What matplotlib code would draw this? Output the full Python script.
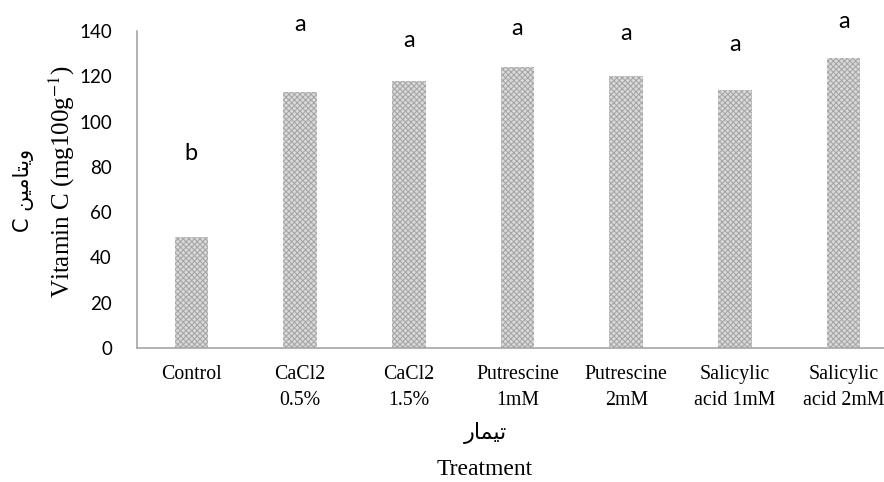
import matplotlib
matplotlib.use("Agg")
import matplotlib.pyplot as plt

# =============================================================================
# DATA
# =============================================================================

treatments = ["Control", "CaCl2\n0.5%", "CaCl2\n1.5%", "Putrescine\n1mM",
              "Putrescine\n2mM", "Salicylic\nacid 1mM", "Salicylic\nacid 2mM"]
vitamin_c  = [49, 113, 118, 124, 120, 114, 128]
letters    = ["b", "a", "a", "a", "a", "a", "a"]
letter_y   = [86, 143, 136, 141, 139, 134, 144]
y_ticks    = [0, 20, 40, 60, 80, 100, 120, 140]

# Persian labels in presentation forms (matplotlib does no Arabic shaping)
fa_treatment = "\uFEAD\uFE8E\uFEE4\uFEF4\uFE97"                       # تیمار
fa_vitamin   = "C " + "\uFEE6\uFEF4\uFEE3\uFE8E\uFE98\uFEF3\uFEED"     # ویتامین C

# =============================================================================

W, H, DPI = 884, 482, 100
SERIF = "Liberation Serif"
SANS  = "Lato"
AXIS_GRAY = "#a6a6a6"

plt.rcParams["hatch.linewidth"] = 0.7

fig = plt.figure(figsize=(W / DPI, H / DPI), dpi=DPI)
ax = fig.add_axes([137 / W, 1 - 348 / H, (898 - 137) / W, (348 - 31) / H])

x = range(len(treatments))
ax.bar(x, vitamin_c, width=0.31, facecolor="#d9d9d9", edgecolor="#a3a3a3",
       linewidth=0, hatch="xxxxxx", zorder=2)

for xi, lab, ly in zip(x, letters, letter_y):
    ax.text(xi, ly, lab, ha="center", va="center", fontsize=17, family=SANS)

ax.set_xlim(-0.5, len(treatments) - 0.5)
ax.set_ylim(0, 140)
ax.set_yticks(y_ticks)
ax.set_yticklabels([str(t) for t in y_ticks], fontsize=13.5, family=SANS)
ax.set_xticks(list(x))
ax.set_xticklabels(treatments, fontsize=14.3, family=SERIF, linespacing=1.5)
ax.tick_params(axis="y", length=0, pad=18)
ax.tick_params(axis="x", length=0, pad=12.5)

for s in ["top", "right"]:
    ax.spines[s].set_visible(False)
for s in ["left", "bottom"]:
    ax.spines[s].set_color(AXIS_GRAY)
    ax.spines[s].set_linewidth(1.2)

# axis titles
fig.text(485 / W, 1 - 433 / H, fa_treatment, ha="center", va="center",
         fontsize=16, family="DejaVu Sans")
fig.text(485 / W, 1 - 475 / H, "Treatment", ha="center", va="baseline",
         fontsize=17, family=SERIF)
fig.text(24 / W, 1 - 190 / H, fa_vitamin, ha="center", va="center",
         rotation=90, fontsize=15, family="DejaVu Sans")
fig.text(62 / W, 1 - 182 / H, "Vitamin C (mg100g$^{-1}$)", ha="center",
         va="center", rotation=90, fontsize=18, family=SERIF,
         math_fontfamily="stix")

fig.savefig("out.png", dpi=DPI)
